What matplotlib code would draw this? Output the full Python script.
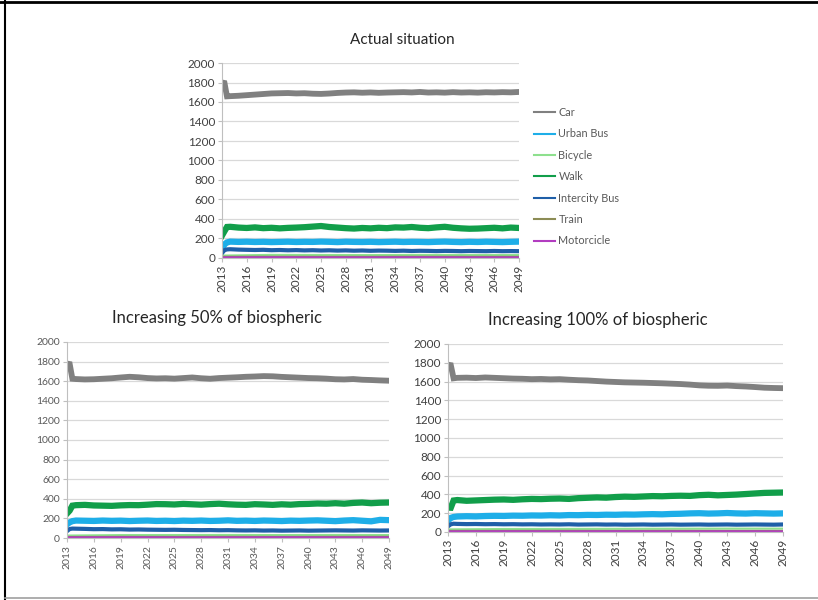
import matplotlib
matplotlib.use("Agg")
import matplotlib.pyplot as plt
from matplotlib.lines import Line2D

plt.rcParams["font.family"] = ["Lato", "DejaVu Sans"]

# x positions: the start-up months of 2013, then one value per year
years = [2013.0, 2013.3, 2013.6] + list(range(2014, 2050))
years_flat = [2013, 2019, 2025, 2031, 2037, 2043, 2049]
tick_years = list(range(2013, 2050, 3))

modes = ["Car", "Urban Bus", "Bicycle", "Walk", "Intercity Bus", "Train", "Motorcicle"]

# --- Actual situation
car_actual = [1800, 1795, 1658,
              1660, 1664, 1670, 1676, 1682, 1688, 1690, 1692, 1688, 1690,
              1685, 1683, 1687, 1693, 1697, 1699, 1695, 1698, 1694, 1697,
              1699, 1701, 1698, 1703, 1697, 1699, 1696, 1701, 1697, 1699,
              1696, 1700, 1698, 1701, 1699, 1703]
urban_actual = [95, 140, 160,
                168, 165, 167, 164, 166, 163, 165, 167, 164, 166,
                165, 168, 166, 163, 167, 165, 164, 166, 163, 165,
                167, 164, 166, 165, 163, 166, 168, 165, 163, 166,
                164, 167, 165, 163, 166, 168]
bicycle_actual = [25, 32, 31, 30, 32, 31, 30]
walk_actual = [230, 275, 318,
               320, 312, 308, 314, 306, 310, 304, 309, 312, 316,
               322, 328, 318, 312, 306, 302, 308, 304, 310, 306,
               314, 312, 318, 310, 306, 314, 320, 310, 304, 300,
               302, 306, 310, 304, 312, 308]
intercity_actual = [50, 80, 88,
                    90, 86, 84, 82, 84, 80, 82, 79, 81, 78,
                    80, 77, 79, 76, 78, 75, 77, 74, 76, 75,
                    73, 75, 72, 74, 73, 71, 73, 72, 70, 72,
                    71, 70, 72, 70, 71, 70]
train_actual = [12, 13, 12, 12, 13, 12, 12]
moto_actual = [3, 4, 3, 3, 4, 3, 3]

# --- Increasing 50% of biospheric
car_50 = [1780, 1775, 1625,
          1622, 1618, 1620, 1625, 1630, 1638, 1645, 1640, 1632, 1628,
          1630, 1626, 1632, 1638, 1630, 1625, 1632, 1636, 1640, 1645,
          1648, 1652, 1650, 1644, 1640, 1636, 1632, 1630, 1626, 1620,
          1618, 1622, 1615, 1612, 1608, 1605]
urban_50 = [140, 160, 172,
            178, 176, 174, 178, 175, 177, 173, 176, 178, 174,
            176, 173, 177, 175, 178, 174, 176, 180, 175, 177,
            174, 178, 176, 173, 177, 175, 178, 180, 176, 172,
            178, 182, 176, 170, 185, 182]
bicycle_50 = [25, 30, 30, 31, 30, 31, 30]
walk_50 = [250, 280, 330,
           335, 338, 332, 330, 328, 333, 336, 335, 340, 346,
           345, 342, 348, 344, 340, 346, 350, 344, 340, 338,
           345, 342, 338, 344, 340, 346, 348, 352, 350, 355,
           350, 358, 362, 355, 360, 362]
intercity_50 = [70, 92, 96,
                95, 93, 90, 91, 88, 89, 86, 87, 85, 84,
                83, 84, 82, 81, 80, 81, 79, 80, 78, 77,
                78, 76, 77, 75, 76, 77, 75, 76, 77, 78,
                77, 76, 78, 77, 76, 77]
train_50 = [10, 12, 11, 12, 11, 12, 12]
moto_50 = [3, 4, 3, 3, 4, 3, 3]

# --- Increasing 100% of biospheric
car_100 = [1780, 1775, 1635,
           1640, 1642, 1638, 1644, 1640, 1636, 1632, 1630, 1626, 1628,
           1624, 1626, 1620, 1615, 1612, 1606, 1600, 1596, 1592, 1590,
           1588, 1585, 1582, 1578, 1574, 1568, 1560, 1556, 1555, 1558,
           1552, 1548, 1542, 1535, 1532, 1530]
urban_100 = [120, 150, 160,
             165, 168, 166, 170, 172, 171, 174, 173, 176, 175,
             178, 176, 180, 179, 182, 181, 184, 183, 186, 185,
             188, 190, 188, 192, 194, 198, 200, 196, 198, 202,
             198, 196, 200, 198, 196, 198]
bicycle_100 = [28, 32, 33, 34, 35, 36, 36]
walk_100 = [260, 258, 335,
            340, 332, 336, 340, 344, 346, 342, 348, 352, 350,
            354, 356, 352, 360, 364, 368, 365, 372, 376, 374,
            378, 382, 380, 384, 386, 384, 392, 396, 390, 394,
            398, 404, 410, 416, 418, 420]
intercity_100 = [60, 82, 88,
                 86, 84, 85, 83, 84, 82, 83, 81, 82, 80,
                 81, 80, 82, 79, 80, 81, 79, 80, 78, 79,
                 80, 78, 79, 80, 78, 79, 80, 78, 79, 80,
                 78, 79, 80, 79, 78, 80]
train_100 = [12, 12, 13, 12, 13, 12, 12]
moto_100 = [3, 4, 3, 4, 3, 4, 3]

colors = {
    "Car": "#808080",
    "Urban Bus": "#1eaee8",
    "Bicycle": "#8ee08e",
    "Walk": "#119e4a",
    "Intercity Bus": "#1f5fa8",
    "Train": "#8c8c55",
    "Motorcicle": "#b23cc0",
}
widths = {"Car": 4.2, "Urban Bus": 4.5, "Bicycle": 1.5, "Walk": 4.5,
          "Intercity Bus": 3.0, "Train": 1.5, "Motorcicle": 2.0}

W, H = 818, 600
fig = plt.figure(figsize=(W / 100, H / 100), dpi=100)


def px_axes(left, top, right, bottom):
    return fig.add_axes([left / W, 1 - bottom / H, (right - left) / W, (bottom - top) / H])


def draw_panel(ax, series, tick_size, tick_color):
    for name, (xs, ys) in zip(modes, series):
        ax.plot(xs, ys, color=colors[name], lw=widths[name], solid_joinstyle="miter")
    ax.set_xlim(2013, 2049)
    ax.set_ylim(0, 2000)
    ax.set_yticks(range(0, 2001, 200))
    ax.set_xticks(tick_years)
    ax.set_xticklabels([str(y) for y in tick_years], rotation=90)
    ax.grid(axis="y", color="#d9d9d9", lw=0.9)
    ax.set_axisbelow(True)
    for s in ["top", "right"]:
        ax.spines[s].set_visible(False)
    for s in ["left", "bottom"]:
        ax.spines[s].set_color("#bfbfbf")
    ax.tick_params(axis="both", labelsize=tick_size, colors="#bfbfbf",
                   labelcolor=tick_color, length=3, width=0.8, pad=2)


ax_top = px_axes(222, 63, 519, 258)
ax_bl = px_axes(67, 342, 389, 538)
ax_br = px_axes(448, 344, 783, 532)

draw_panel(ax_top, [(years, car_actual), (years, urban_actual), (years_flat, bicycle_actual),
                    (years, walk_actual), (years, intercity_actual), (years_flat, train_actual),
                    (years_flat, moto_actual)], 8.5, "#404040")
draw_panel(ax_bl, [(years, car_50), (years, urban_50), (years_flat, bicycle_50),
                   (years, walk_50), (years, intercity_50), (years_flat, train_50),
                   (years_flat, moto_50)], 7.5, "#595959")
draw_panel(ax_br, [(years, car_100), (years, urban_100), (years_flat, bicycle_100),
                   (years, walk_100), (years, intercity_100), (years_flat, train_100),
                   (years_flat, moto_100)], 8.5, "#404040")

fig.text(402 / W, 1 - 40 / H, "Actual situation", ha="center", va="center", fontsize=11, color="#262626")
fig.text(217 / W, 1 - 318 / H, "Increasing 50% of biospheric", ha="center", va="center", fontsize=12, color="#262626")
fig.text(598 / W, 1 - 320 / H, "Increasing 100% of biospheric", ha="center", va="center", fontsize=12, color="#262626")

handles = [Line2D([], [], color=colors[m], lw=1.5) for m in modes]
fig.legend(handles, modes, loc="upper left", bbox_to_anchor=(534 / W, 1 - 107 / H),
           frameon=False, fontsize=7.8, labelcolor="#595959", handlelength=1.9,
           handletextpad=0.35, labelspacing=0.96, borderaxespad=0, borderpad=0)

# outer frame of the picture
fig.add_artist(Line2D([0, 1], [1 - 1.5 / H] * 2, transform=fig.transFigure, color="black", lw=2))
fig.add_artist(Line2D([4.5 / W] * 2, [0, 1], transform=fig.transFigure, color="black", lw=1.5))
fig.add_artist(Line2D([4.5 / W, 1], [1 - 598 / H] * 2, transform=fig.transFigure, color="#a0a0a0", lw=1.2))

fig.savefig("out.png", dpi=100)
